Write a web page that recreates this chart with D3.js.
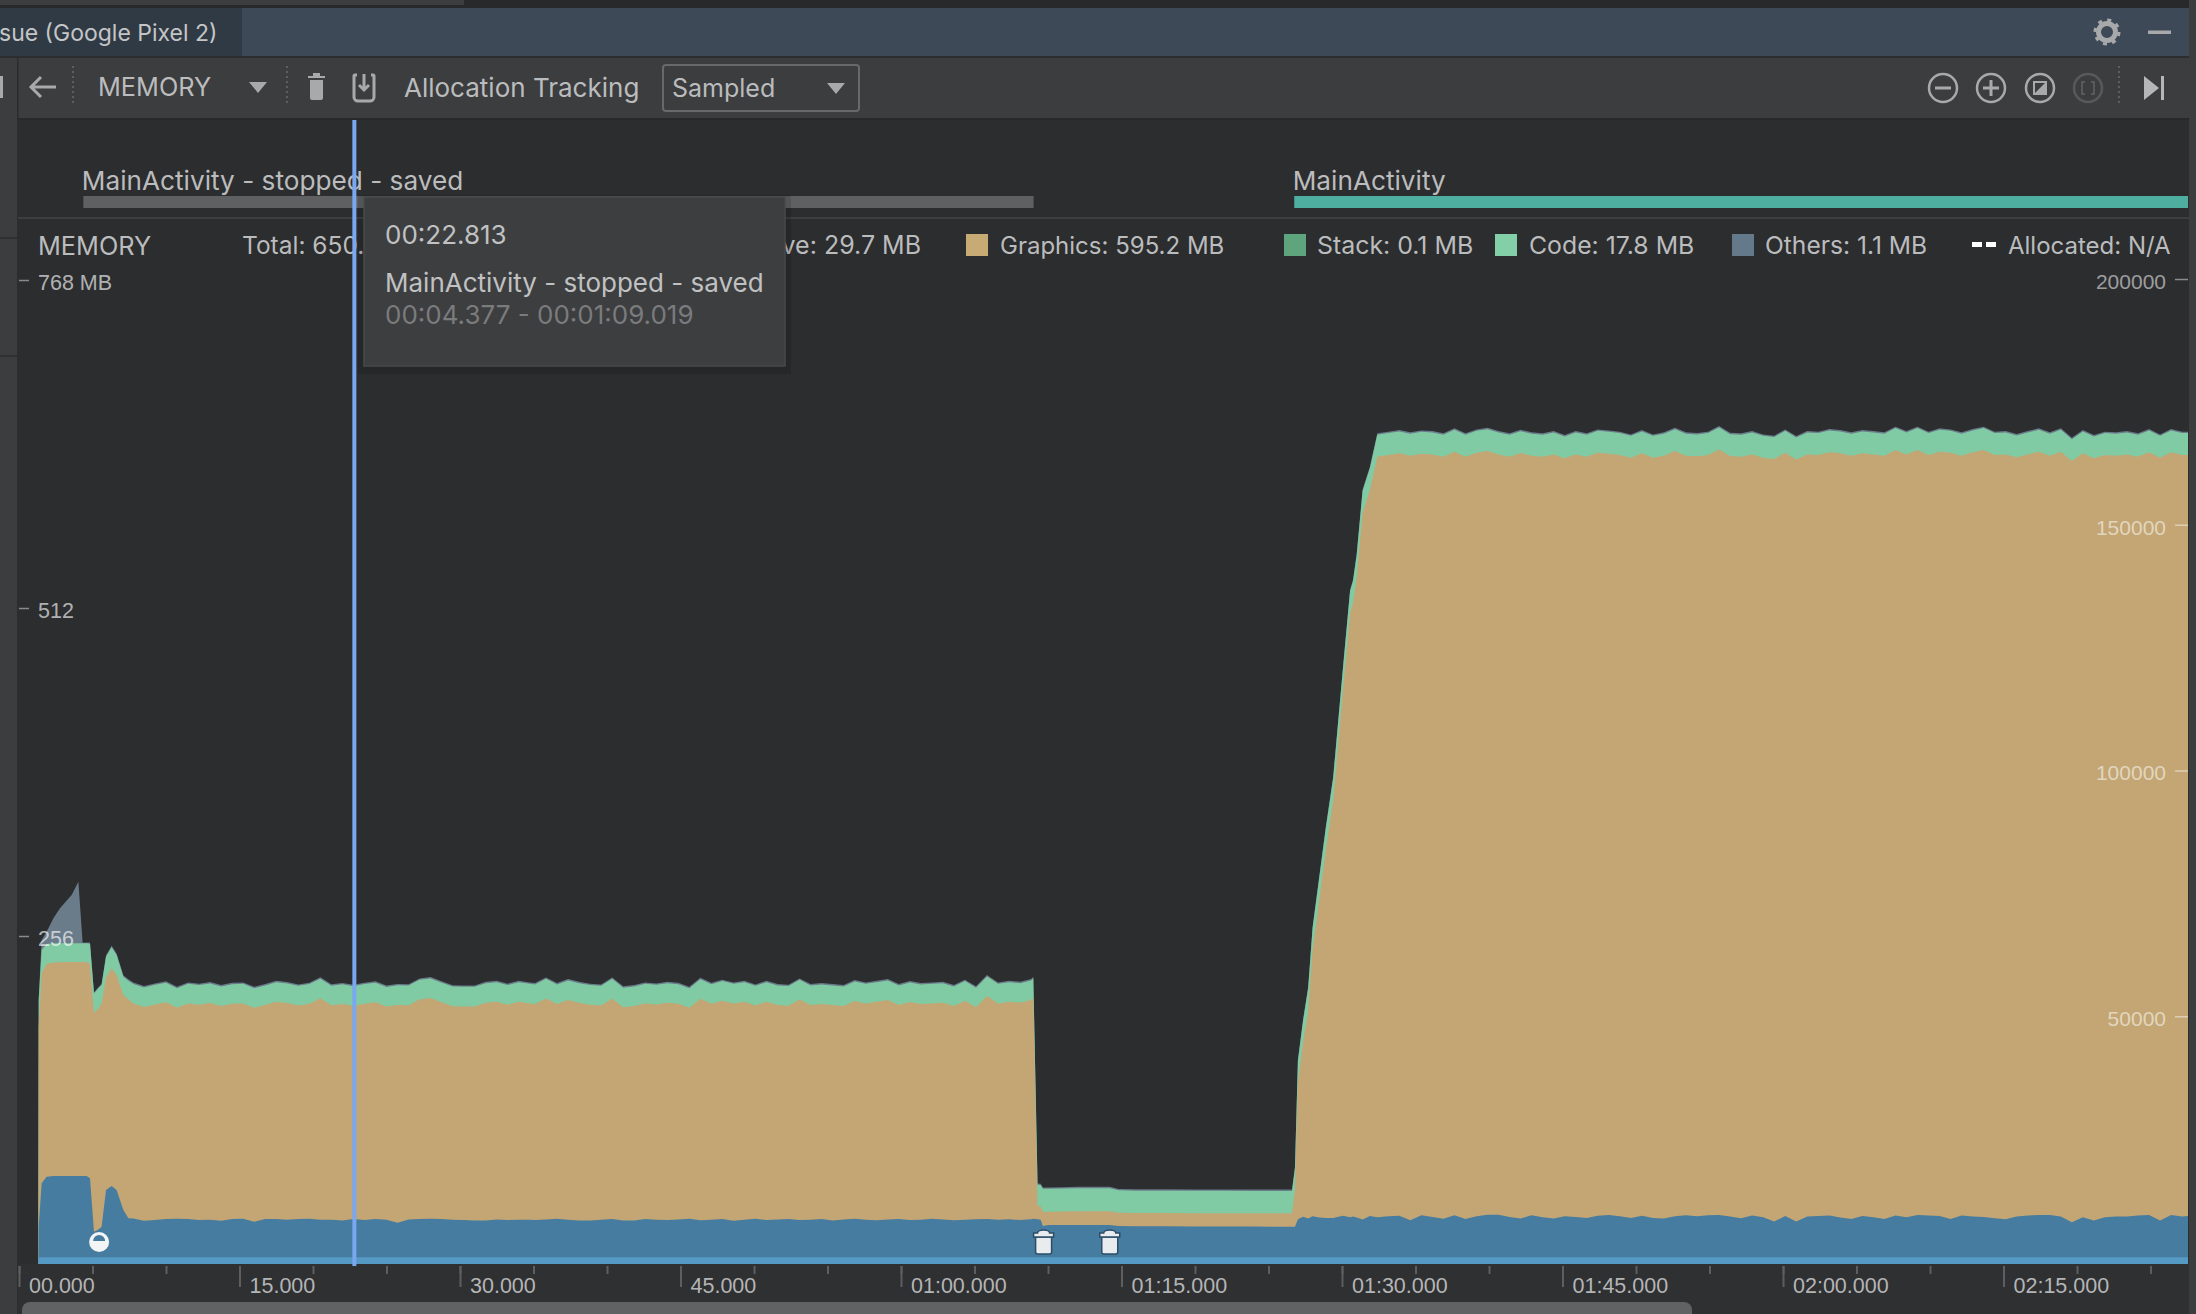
<!DOCTYPE html>
<html>
<head>
<meta charset="utf-8">
<title>Memory profiler</title>
<script src="https://cdn.jsdelivr.net/npm/d3@7"></script>
<style>
  html, body { margin: 0; background: #2d2e30; overflow: hidden; }
  svg { display: block; }
  text { font-family: Inter, "Liberation Sans", sans-serif; fill: #bbbcbd; }
  .axis text { font-family: "Liberation Sans", sans-serif; }
  .axis path { display: none; }
</style>
</head>
<body>
<svg id="chart" width="2196" height="1314"></svg>
<script>
// sample times in seconds, one line per part of the recording
const seconds = [
  1.32,1.34,1.54,1.88,2.34,2.79,3.58,4.04,4.33,4.6,4.83,5.1,5.4,5.62,5.92,6.3,6.64,7.1,7.44,7.78,
  8.5,9.25,10,10.75,11.5,12.25,13,13.75,14.5,15.25,16,16.75,17.5,18.25,19,19.75,20.5,21.25,22,22.75,23.5,24.25,25,25.75,26.5,27.25,28,28.75,29.5,30.25,31,31.75,32.5,33.25,34,34.75,
  35.1,35.85,36.6,37.35,38.1,38.85,39.6,40.35,41.1,41.85,42.6,43.35,44.1,44.85,45.6,46.35,47.1,47.85,48.6,49.35,50.1,50.85,51.6,52.35,53.1,53.85,54.6,55.35,56.1,56.85,57.6,58.35,59.1,59.85,60.6,61.35,62.1,62.85,63.6,64.35,65.1,65.85,66.6,67.35,68.1,68.85,69,
  69.29,69.5,69.65,70,71,72,73,74.2,74.8,76,78,80,82,84,86,86.6,
  86.8,87,87.35,87.7,88,88.45,88.9,89.4,90.05,90.55,90.75,91,91.4,91.9,
  92.4,93.15,93.9,94.65,95.4,96.15,96.9,97.65,98.4,99.15,99.9,100.65,101.4,102.15,102.9,103.65,104.4,105.15,105.9,106.65,107.4,108.15,108.9,109.65,110.4,111.15,111.9,112.65,113.4,114.15,114.9,115.65,116.4,117.15,117.9,118.65,119.4,120.15,
  120.9,121.65,122.4,123.15,123.9,124.65,125.4,126.15,126.9,127.65,128.4,129.15,129.9,130.65,131.4,132.15,132.9,133.65,134.4,135.15,135.9,136.65,137.4,138.15,138.9,139.65,140.4,141.15,141.9,142.65,143.4,144.15,144.9,145.65,146.4,147.15,147.55
];

// java band in MB
const javaMb = [
  0,5.2,5.2,5.2,5.2,5.2,5.2,5.2,5.2,5.2,5.2,5.2,5.2,5.2,5.2,5.2,5.2,5.2,5.2,5.2,
  5.2,5.2,5.2,5.2,5.2,5.2,5.2,5.2,5.2,5.2,5.2,5.2,5.2,5.2,5.2,5.2,5.2,5.2,5.2,5.2,5.2,5.2,5.2,5.2,5.2,5.2,5.2,5.2,5.2,5.2,5.2,5.2,5.2,5.2,5.2,5.2,
  5.2,5.2,5.2,5.2,5.2,5.2,5.2,5.2,5.2,5.2,5.2,5.2,5.2,5.2,5.2,5.2,5.2,5.2,5.2,5.2,5.2,5.2,5.2,5.2,5.2,5.2,5.2,5.2,5.2,5.2,5.2,5.2,5.2,5.2,5.2,5.2,5.2,5.2,5.2,5.2,5.2,5.2,5.2,5.2,5.2,5.2,5.2,
  5.2,5.2,5.2,5.2,5.2,5.2,5.2,5.2,5.2,5.2,5.2,5.2,5.2,5.2,5.2,5.2,
  5.2,5.2,5.2,5.2,5.2,5.2,5.2,5.2,5.2,5.2,5.2,5.2,5.2,5.2,
  5.2,5.2,5.2,5.2,5.2,5.2,5.2,5.2,5.2,5.2,5.2,5.2,5.2,5.2,5.2,5.2,5.2,5.2,5.2,5.2,5.2,5.2,5.2,5.2,5.2,5.2,5.2,5.2,5.2,5.2,5.2,5.2,5.2,5.2,5.2,5.2,5.2,5.2,
  5.2,5.2,5.2,5.2,5.2,5.2,5.2,5.2,5.2,5.2,5.2,5.2,5.2,5.2,5.2,5.2,5.2,5.2,5.2,5.2,5.2,5.2,5.2,5.2,5.2,5.2,5.2,5.2,5.2,5.2,5.2,5.2,5.2,5.2,5.2,5.2,5.2
];

// top edge of the native band, MB above zero
const nativeTopMb = [
  0,29.1,63,68.1,68.7,68.7,68.7,68.7,68.7,68.7,66.9,25.2,27,29.1,57.8,60.9,57.8,42.1,35.7,35.5,
  33.8,34.3,35.1,35.3,35.1,34.3,34.6,33.8,35.1,35.3,33,35.1,35.1,34.6,35.1,35.3,34.6,34.6,34,35.1,34.3,35.1,34.6,32.2,34.8,35.1,35.3,35.1,34.6,34.3,34,34,34.8,34.3,34.6,34.6,
  34.3,34.8,35.3,34.6,34,34,34.6,35.1,34,34,35.1,34.6,34.3,34.8,35.3,34.1,34.6,35.1,33.8,34.6,35.3,34.3,34.8,35.1,34.3,34.6,35.1,34,34.8,35.3,34.6,34.1,34.8,35.1,34.3,34.6,35.3,34.8,34.1,34.6,34.9,35.1,34.6,34.9,34.3,34.9,35.3,
  34.9,34.5,29.7,30.4,30.4,30.4,30.4,30.4,29.7,29.5,29.4,29.3,29.2,29.2,29.1,29.1,
  29.1,34.9,36.9,35.5,37.2,36.2,36,36,37.7,36.4,37,36.2,34.8,37.5,
  36.4,37.2,37.7,34.1,38,36.7,35.4,38,35.1,37.2,38.5,38.5,36.7,35.6,38,36.4,35.6,37.2,36.7,35.9,37.7,38.2,37.2,35.9,37.7,35.9,35.6,37.2,38,37.2,38,
  38.3,37,35.7,37.8,36.5,33.1,37.5,33.1,37,37.5,37.8,36.2,35.2,37.5,36.5,35.2,37.8,36.5,38.3,37.8,37.5,35.2,37.8,37,36.7,35.7,34.9,37,37.8,38.3,38.3,37,32.6,36.5,33.9,36.5,37,37,37.8,38.3,33.9,38.3,37,37.5
];

// top edge of the graphics band, same reading
const graphicsTopMb = [
  0,185.2,226.9,234.1,235.4,235.6,235.7,235.7,235.7,235.7,234.1,196.1,199.5,203.4,223.7,230.8,225.6,209.9,206.6,203.4,
  200.5,202.6,204.2,200,203.4,202.4,203.7,201.3,203.1,203.4,200,202.1,204.7,203.7,201.8,203.2,207.4,201.9,203,201.5,203.2,204.2,200.9,202.2,202,206.5,207.6,204.2,201.2,201,201,203.9,204.7,202.4,204.7,203.4,
  202.9,207.3,202.9,206,203.9,202.4,201.8,207.3,200.3,201.3,203.4,202.6,203.9,203.1,200,207,203.1,205.5,203.4,204.7,201.8,204.7,202.1,201.6,206.5,202.1,202.9,202.1,201.3,205.2,203.4,204.7,206,202.1,204.4,202.9,203.4,203.9,201.3,205.5,200.3,209.1,203.4,204.7,203.9,206,207.8,
  45.2,45,40.8,40.8,41,41.2,41.2,41.2,40,39.8,39.8,39.7,39.7,39.6,39.6,39.6,
  57.8,141.3,172.5,198.2,245,284.1,323.1,362.1,445.6,508.1,515.9,536.2,586.1,604.1,
  630.1,631.4,632.7,630.9,632.4,631.9,630.1,634,630.1,633.2,634.5,631.9,630.1,632.9,630.9,630.1,631.9,628.8,631.9,630.1,633.2,632.4,631.4,629.3,632.7,629.3,630.9,634.5,630.9,630.4,631.4,635.8,630.6,630.1,631.9,629.3,628.3,633.2,
  628,631.9,631.4,633.5,632.7,630.9,632.7,631.9,630.9,635.3,631.9,635.3,631.4,634,633.2,630.9,633.5,635.3,631.4,631.9,629.6,631.9,634,630.9,634,626.7,632.7,628.8,631.4,630.9,631.9,630.1,633.5,629.3,633.5,631.4,631.4
];

// code band thickness in MB
const codeMb = [
  0,20.8,18.2,15.6,14.9,14.7,14.6,14.6,14.6,14.6,15.9,15.2,15.7,14.3,16.1,16.4,15.6,14.3,14.5,15.1,
  15.3,15.3,15.3,15.3,15.3,15.3,15.3,15.3,15.3,15.3,15.3,15.3,15.3,15.3,15.3,15.3,15.3,15.3,15.3,15.3,15.3,15.3,15.3,15.3,15.3,15.3,15.3,15.3,15.3,15.3,15.3,15.3,15.3,15.3,15.3,15.3,
  15.3,15.3,15.3,15.3,15.3,15.3,15.3,15.3,15.3,15.3,15.3,15.3,15.3,15.3,15.3,15.3,15.3,15.3,15.3,15.3,15.3,15.3,15.3,15.3,15.3,15.3,15.3,15.3,15.3,15.3,15.3,15.3,15.3,15.3,15.3,15.3,15.3,15.3,15.3,15.3,15.3,15.3,15.3,15.3,15.3,15.3,15.3,
  16.6,16.6,17.9,17.9,17.9,17.9,17.9,17.9,17.5,17.4,17.4,17.4,17.4,17.4,17.4,17.4,
  17.2,17.2,17.2,17.2,17.2,17.2,17.2,17.2,17.2,17.2,17.2,17.2,17.2,17.2,
  17.1,17.1,17.1,17.1,17.1,17.1,17.1,17.1,17.1,17.1,17.1,17.1,17.1,17.1,17.1,17.1,17.1,17.1,17.1,17.1,17.1,17.1,17.1,17.1,17.1,17.1,17.1,17.1,17.1,17.1,17.1,17.1,17.1,17.1,17.1,17.1,17.1,17.1,
  17.1,17.1,17.1,17.1,17.1,17.1,17.1,17.1,17.1,17.1,17.1,17.1,17.1,17.1,17.1,17.1,17.1,17.1,17.1,17.1,17.1,17.1,17.1,17.1,17.1,17.1,17.1,17.1,17.1,17.1,17.1,17.1,17.1,17.1,17.1,17.1,17.1
];

// others band thickness in MB
const othersMb = [
  0,0.5,7.8,9.7,19.5,27.3,37.7,48.1,0.5,0.7,1,0.7,0.8,1.1,1.2,1.2,1.2,1.2,1.2,1.2,
  1.1,1.1,1.1,1.1,1.1,1.1,1.1,1.1,1.1,1.1,1.1,1.1,1.1,1.1,1.1,1.1,1.1,1.1,1.1,1.1,1.1,1.1,1.1,1.1,1.1,1.1,1.1,1.1,1.1,1.1,1.1,1.1,1.1,1.1,1.1,1.1,
  1.1,1.1,1.1,1.1,1.1,1.1,1.1,1.1,1.1,1.1,1.1,1.1,1.1,1.1,1.1,1.1,1.1,1.1,1.1,1.1,1.1,1.1,1.1,1.1,1.1,1.1,1.1,1.1,1.1,1.1,1.1,1.1,1.1,1.1,1.1,1.1,1.1,1.1,1.1,1.1,1.1,1.1,1.1,1.1,1.1,1.1,1.1,
  1.1,1.1,1.1,1.1,1.1,1.1,1.1,1.1,1.1,1.1,1.1,1.1,1.1,1.1,1.1,1.1,
  1.1,1.1,1.1,1.1,1.1,1.1,1.1,1.1,1.1,1.1,1.1,1.1,1.1,1.1,
  1.1,1.1,1.1,1.1,1.1,1.1,1.1,1.1,1.1,1.1,1.1,1.1,1.1,1.1,1.1,1.1,1.1,1.1,1.1,1.1,1.1,1.1,1.1,1.1,1.1,1.1,1.1,1.1,1.1,1.1,1.1,1.1,1.1,1.1,1.1,1.1,1.1,1.1,
  1.1,1.1,1.1,1.1,1.1,1.1,1.1,1.1,1.1,1.1,1.1,1.1,1.1,1.1,1.1,1.1,1.1,1.1,1.1,1.1,1.1,1.1,1.1,1.1,1.1,1.1,1.1,1.1,1.1,1.1,1.1,1.1,1.1,1.1,1.1,1.1,1.1
];

const leftTicks = [256, 512, 768];
const rightTicks = [50000, 100000, 150000, 200000];
const minorSeconds = [0,5,10,15,20,25,30,35,40,45,50,55,60,65,70,75,80,85,90,95,100,105,110,115,120,125,130,135,140,145];
const majorSeconds = [0, 15, 30, 45, 60, 75, 90, 105, 120, 135];
const majorLabels = ["00.000", "15.000", "30.000", "45.000", "01:00.000", "01:15.000", "01:30.000", "01:45.000", "02:00.000", "02:15.000"];

const activityLabels = ["MainActivity - stopped - saved", "MainActivity"];
const activityStarts = [4.377, 86.75];
const activityEnds = [69.019, 147.55];
const cursorSeconds = 22.813;
const gcSeconds = [5.45];
const trashSeconds = [69.7, 74.2];

// the two legend entries under the tooltip are only partly visible
const legendLabels = ["Total: 650.", "ve: 29.7 MB", "Graphics: 595.2 MB", "Stack: 0.1 MB", "Code: 17.8 MB", "Others: 1.1 MB", "Allocated: N/A"];

const svg = d3.select("#chart");
const plotBg = "#2c2d2f";
const plot = { left: 19, right: 2188, top: 120, bottom: 1264 };

const x = d3.scaleLinear().domain([0, 147.55]).range([plot.left, plot.right]);
const yLeft = d3.scaleLinear().domain([0, 768]).range([plot.bottom, 280]);
const yRight = d3.scaleLinear().domain([0, 200000]).range([1262, 279]);

// window chrome
function rect(px, py, w, h, fill) {
  return svg.append("rect").attr("x", px).attr("y", py).attr("width", w).attr("height", h).attr("fill", fill);
}
function label(text, px, py, size, fill) {
  return svg.append("text").attr("x", px).attr("y", py).attr("font-size", size).style("fill", fill || "#bbbcbd").text(text);
}

const chrome = "#3c3d3f";
rect(0, 0, 2196, 1314, plotBg);
rect(0, 0, 2196, 8, "#28292a");
rect(0, 0, 464, 5, chrome);
rect(0, 8, 2196, 48, "#3d4957");
rect(0, 8, 242, 48, "#303a45");
rect(0, 58, 2196, 60, chrome);
rect(0, 118, 2196, 2, "#29292a");
rect(0, 58, 17, 1256, chrome);
rect(17, 58, 1.5, 60, "#2b2c2d");
rect(0, 237, 17, 2, "#2f3032");
rect(0, 355, 17, 2, "#2f3032");
rect(2189, 0, 7, 1314, chrome);
rect(18, 217, 2171, 2, "#3c3e40");
rect(18, 1264, 2171, 50, "#2f3032");
rect(0, 76, 3, 22, "#a8a9aa");

label("sue (Google Pixel 2)", -1, 41, 23, "#c4c5c6");
label("MEMORY", 98, 96, 25.3);
label("Allocation Tracking", 404, 97, 26);
label("Sampled", 672, 97, 25);
svg.append("rect").attr("x", 663).attr("y", 65).attr("width", 196).attr("height", 46).attr("rx", 3)
  .attr("fill", "none").attr("stroke", "#67696b").attr("stroke-width", 2);

// toolbar icons
const iconColor = "#a8a9aa";
function tri(cx, cy) {
  svg.append("path").attr("d", `M${cx - 9} ${cy - 5}h18l-9 11z`).attr("fill", iconColor);
}
tri(258, 87);
tri(836, 88);
svg.append("path").attr("d", "M56 87h-24m9-10l-10 10l10 10").attr("fill", "none").attr("stroke", iconColor).attr("stroke-width", 3);
[73, 287, 2119].forEach((sx) => {
  svg.append("line").attr("x1", sx).attr("x2", sx).attr("y1", 66).attr("y2", 105)
    .attr("stroke", "#68696b").attr("stroke-width", 1.5).attr("stroke-dasharray", "2 3");
});
svg.append("path").attr("d", "M310 80h13v18a2 2 0 0 1-2 2h-9a2 2 0 0 1-2-2zM308 76h17v2h-17zM313 73h7v3h-7z").attr("fill", iconColor);
svg.append("path").attr("d", "M357 75h-2a1 1 0 0 0-1 1v21a4 4 0 0 0 4 4h12a4 4 0 0 0 4-4v-21a1 1 0 0 0-1-1h-2M364 74v16m-5-5l5 5l5-5")
  .attr("fill", "none").attr("stroke", iconColor).attr("stroke-width", 3);
[["minus", 1943], ["plus", 1991], ["fit", 2040], ["off", 2088]].forEach(([kind, cx]) => {
  const col = kind === "off" ? "#58595b" : iconColor;
  svg.append("circle").attr("cx", cx).attr("cy", 88).attr("r", 14).attr("fill", "none").attr("stroke", col).attr("stroke-width", 2.5);
  if (kind === "minus" || kind === "plus") rect(cx - 8, 86.5, 16, 3, col);
  if (kind === "plus") rect(cx - 1.5, 80, 3, 16, col);
  if (kind === "fit") {
    svg.append("path").attr("d", `M${cx - 6} ${88 - 6}h12v12h-12z`).attr("fill", "none").attr("stroke", col).attr("stroke-width", 2);
    svg.append("path").attr("d", `M${cx + 6} ${88 - 6}v12h-12z`).attr("fill", col);
  }
  if (kind === "off") svg.append("path").attr("d", `M${cx - 3} ${88 - 6}h-3v12h3M${cx + 3} ${88 - 6}h3v12h-3`).attr("fill", "none").attr("stroke", col).attr("stroke-width", 2);
});
svg.append("path").attr("d", "M2144 76l15 12l-15 12z").attr("fill", "#b5b6b7");
rect(2161, 76, 3, 24, "#b5b6b7");
svg.append("circle").attr("cx", 2107).attr("cy", 32).attr("r", 8.5).attr("fill", "none").attr("stroke", iconColor).attr("stroke-width", 5);
svg.append("circle").attr("cx", 2107).attr("cy", 32).attr("r", 12).attr("fill", "none").attr("stroke", iconColor).attr("stroke-width", 3).attr("stroke-dasharray", "4 5.4");
rect(2148, 30.5, 23, 3.5, iconColor);

// the stacked memory areas, painted back to front so no seams show
const rows = seconds.map((t, i) => ({
  t,
  java: javaMb[i],
  native: nativeTopMb[i],
  graphics: graphicsTopMb[i],
  code: graphicsTopMb[i] + codeMb[i],
  others: graphicsTopMb[i] + codeMb[i] + othersMb[i],
}));
const bands = [
  ["others", "#6a7b8a"],
  ["code", "#80cba4"],
  ["graphics", "#c3a674"],
  ["native", "#467c9f"],
  ["java", "#5599c5"],
];
bands.forEach(([key, color]) => {
  const area = d3.area().x((d) => x(d.t)).y0(plot.bottom).y1((d) => yLeft(d[key]));
  svg.append("path").attr("d", area(rows)).attr("fill", color);
});

// activity bars
const activityColors = ["#5f6062", "#4eaea0"];
activityLabels.forEach((text, i) => {
  rect(x(activityStarts[i]), 196, x(activityEnds[i]) - x(activityStarts[i]), 12, activityColors[i]);
  label(text, x(activityStarts[i]) - 1.5, 190, 26.2);
});

// legend
label("MEMORY", 38, 255, 25.3);
const legendX = [242, 921, 1000, 1317, 1529, 1765, 2008];
const legendSize = [24.5, 25, 24, 24.9, 24.8, 24.6, 24];
legendLabels.forEach((text, i) => {
  label(text, legendX[i], 254, legendSize[i]).attr("text-anchor", i === 1 ? "end" : "start");
});
const swatchX = [966, 1284, 1495, 1732];
const swatchColors = ["#c8aa74", "#5ea57e", "#83d0a8", "#64798a"];
swatchX.forEach((sx, i) => rect(sx, 234, 22, 22, swatchColors[i]));
rect(1972, 242, 10, 5, "#ffffff");
rect(1986, 242, 10, 5, "#ffffff");

// axes
const axisLeftG = svg.append("g").attr("class", "axis").attr("transform", `translate(${plot.left},0)`)
  .call(d3.axisRight(yLeft).tickValues(leftTicks).tickSize(10).tickPadding(9).tickFormat((d) => (d === 768 ? "768 MB" : d)));
const axisRightG = svg.append("g").attr("class", "axis").attr("transform", `translate(${plot.right},0)`)
  .call(d3.axisLeft(yRight).tickValues(rightTicks).tickSize(13).tickPadding(9).tickFormat((d) => d));
axisLeftG.selectAll("text").attr("font-size", 21.5).style("fill", "#ffffff").style("fill-opacity", 0.65).attr("dy", "0.42em");
axisRightG.selectAll("text").attr("font-size", 21).style("fill", "#ffffff").style("fill-opacity", 0.55).attr("dy", "0.45em");
[axisLeftG, axisRightG].forEach((g) => {
  g.selectAll("line").attr("stroke", "#ffffff").attr("stroke-opacity", 0.45).attr("stroke-width", 1.5);
});

const minorAxis = svg.append("g").attr("class", "axis").attr("transform", `translate(0,${plot.bottom + 2})`)
  .call(d3.axisBottom(x).tickValues(minorSeconds).tickSize(8).tickFormat(""));
minorAxis.selectAll("line").attr("stroke", "#5d5e60").attr("stroke-width", 2);
const majorAxis = svg.append("g").attr("class", "axis").attr("transform", `translate(0,${plot.bottom + 2})`)
  .call(d3.axisBottom(x).tickValues(majorSeconds).tickSize(21).tickFormat((d, i) => majorLabels[i]));
majorAxis.selectAll("line").attr("stroke", "#5d5e60").attr("stroke-width", 2);
majorAxis.selectAll("text").attr("font-size", 21.5).attr("text-anchor", "start").attr("x", 9.5).attr("y", 12).attr("dy", "0.71em").style("fill", "#b4b5b6");

// scrollbar
svg.append("rect").attr("x", 22).attr("y", 1302).attr("width", 1670).attr("height", 24).attr("rx", 8).attr("fill", "#616264");

// event markers
gcSeconds.forEach((s) => {
  const g = svg.append("g").attr("transform", `translate(${x(s)},1242)`);
  g.append("circle").attr("r", 10).attr("fill", "#f2f4f5");
  g.append("path").attr("d", "M-6 -1a6 6 0 0 1 12 0z").attr("fill", "#467c9f");
});
trashSeconds.forEach((s) => {
  const g = svg.append("g").attr("transform", `translate(${x(s)},1242)`);
  g.append("path").attr("d", "M-8 -5h16v15a2 2 0 0 1-2 2h-12a2 2 0 0 1-2-2z").attr("fill", "#e8ecef").attr("stroke", "#2c4d67").attr("stroke-width", 1.5);
  g.append("path").attr("d", "M-10 -9h4a6 3 0 0 1 12 0h4v4h-20z").attr("fill", "#e8ecef").attr("stroke", "#2c4d67").attr("stroke-width", 1.5);
});

// cursor and tooltip go on top
rect(x(cursorSeconds) - 2, plot.top, 4, plot.bottom - plot.top + 2, "#79a7f0");

const tip = { x: 364, y: 197, w: 421, h: 169 };
svg.append("rect").attr("x", tip.x - 6).attr("y", tip.y - 2).attr("width", tip.w + 12).attr("height", tip.h + 10).attr("fill", "#000").attr("opacity", 0.12);
rect(tip.x, tip.y, tip.w, tip.h, "#3d3e40").attr("stroke", "#48494b").attr("stroke-width", 1.5);
label("00:22.813", 385, 244, 26, "#c0c1c2");
label("MainActivity - stopped - saved", 385, 292, 26, "#c0c1c2");
label("00:04.377 - 00:01:09.019", 385, 324, 26, "#7a7b7d");
</script>
</body>
</html>
